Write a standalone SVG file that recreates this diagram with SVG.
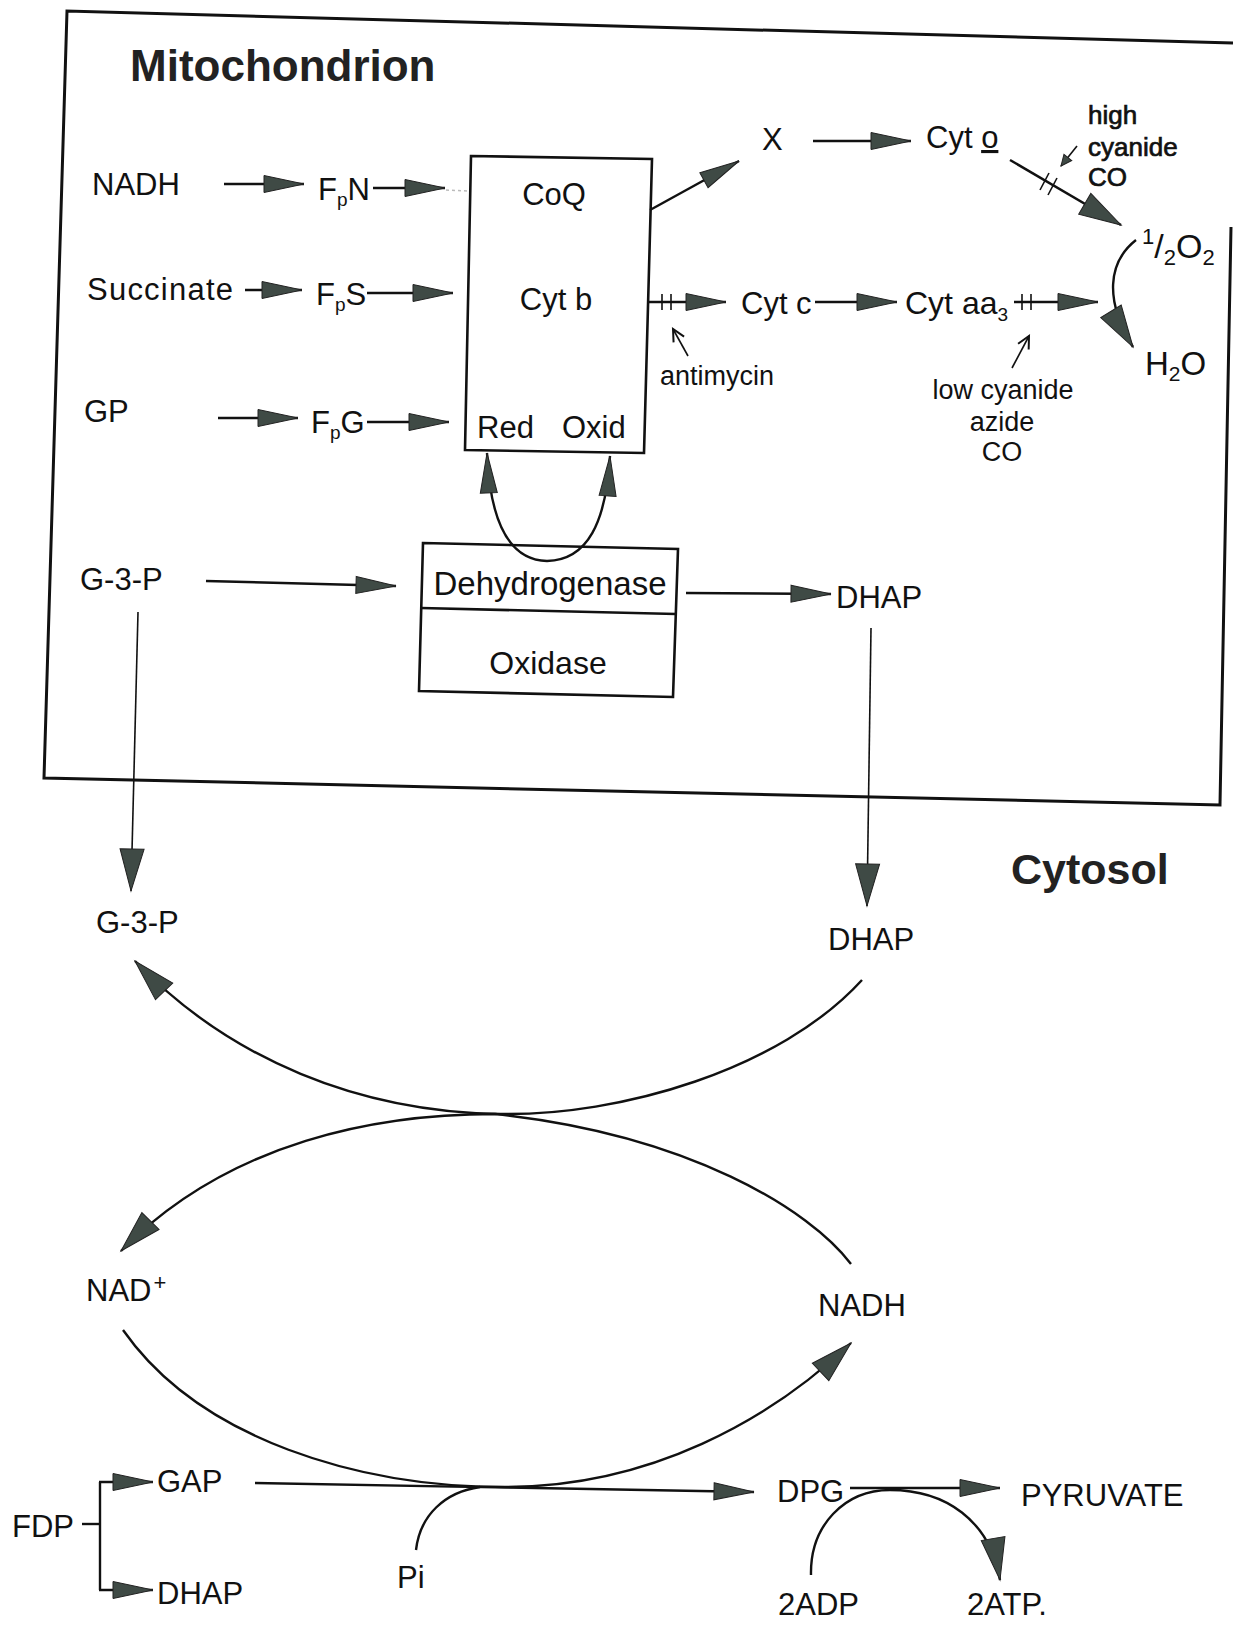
<svg xmlns="http://www.w3.org/2000/svg" width="1242" height="1626" viewBox="0 0 1242 1626">
<style>
text{font-family:"Liberation Sans",Arial,Helvetica,sans-serif;fill:#111;}
.t{font-size:31px;}
.b{font-size:31px;}
.s{font-size:27px;}
.hv{font-size:26px;stroke:#111;stroke-width:0.7px;}
.sub{font-size:19px;}
.ttl{font-weight:bold;fill:#222;}
.ln{fill:none;stroke:#111;stroke-width:2.4;}
.thin{fill:none;stroke:#111;stroke-width:1.6;}
.box{fill:none;stroke:#111;stroke-width:2.6;}
.ah{marker-end:url(#ah);}
.ahb{marker-end:url(#ahb);}
.aho{marker-end:url(#aho);}
.aht{marker-end:url(#aht);}
</style>
<defs>
<marker id="ah" markerUnits="userSpaceOnUse" orient="auto" markerWidth="42" markerHeight="18" refX="40" refY="9" overflow="visible">
<path d="M0,0.5 L40,9 L0,17.5 Z" fill="#3f4a45" stroke="#222" stroke-width="1"/>
</marker>
<marker id="ahb" markerUnits="userSpaceOnUse" orient="auto" markerWidth="44" markerHeight="26" refX="42" refY="12" overflow="visible">
<path d="M0,0 L42,12 L0,24 Z" fill="#3f4a45" stroke="#222" stroke-width="1"/>
</marker>
<marker id="aho" markerUnits="userSpaceOnUse" orient="auto" markerWidth="14" markerHeight="14" refX="12" refY="6" overflow="visible">
<path d="M0,0 L12,6 L0,12" fill="none" stroke="#111" stroke-width="2"/>
</marker>
<marker id="aht" markerUnits="userSpaceOnUse" orient="auto" markerWidth="12" markerHeight="10" refX="11" refY="5" overflow="visible">
<path d="M0,0 L11,5 L0,10 Z" fill="#3f4a45" stroke="#222" stroke-width="1"/>
</marker>
</defs>
<rect width="1242" height="1626" fill="#fff"/>

<g id="mitochondrion">
<polyline points="1233,43 67,11 44,778 1220,805 1231,227" fill="none" stroke="#111" stroke-width="3"/>
<text class="ttl" x="130" y="81" font-size="44">Mitochondrion</text>
</g>
<g id="cytosol-label"><text class="ttl" x="1011" y="884" font-size="43">Cytosol</text></g>

<g id="n-nadh-m"><text class="t" x="92" y="195">NADH</text></g>
<g id="n-fpn"><text class="t" x="318" y="200">F<tspan class="sub" dy="6">p</tspan><tspan dy="-6">N</tspan></text></g>
<g id="n-succinate"><text class="t" x="87" y="300" textLength="146">Succinate</text></g>
<g id="n-fps"><text class="t" x="316" y="305">F<tspan class="sub" dy="6">p</tspan><tspan dy="-6">S</tspan></text></g>
<g id="n-gp"><text class="t" x="84" y="422">GP</text></g>
<g id="n-fpg"><text class="t" x="311" y="433">F<tspan class="sub" dy="6">p</tspan><tspan dy="-6">G</tspan></text></g>

<g id="n-complex">
<polygon points="471,156 652,159 644,453 465,450" class="box"/>
<text class="b" x="554" y="205" text-anchor="middle">CoQ</text>
<text class="b" x="556" y="310" text-anchor="middle">Cyt b</text>
<text class="b" x="477" y="438">Red</text>
<text class="b" x="562" y="438">Oxid</text>
</g>

<g id="n-x"><text class="t" x="762" y="150">X</text></g>
<g id="n-cyto"><text class="t" x="926" y="148">Cyt <tspan text-decoration="underline">o</tspan></text></g>
<g id="n-high"><text class="hv" x="1088" y="124">high</text><text class="hv" x="1088" y="156">cyanide</text><text class="hv" x="1088" y="186">CO</text></g>
<g id="n-o2"><text font-size="34" x="1142" y="258"><tspan font-size="22" dy="-14">1</tspan><tspan dy="14">/</tspan><tspan font-size="22" dy="7">2</tspan><tspan dy="-7">O</tspan><tspan font-size="22" dy="7">2</tspan></text></g>
<g id="n-h2o"><text font-size="33" x="1145" y="375">H<tspan font-size="21" dy="6">2</tspan><tspan dy="-6">O</tspan></text></g>
<g id="n-cytc"><text class="t" x="741" y="314">Cyt c</text></g>
<g id="n-cytaa3"><text font-size="32" x="905" y="314">Cyt aa<tspan class="sub" dy="7">3</tspan></text></g>
<g id="n-antimycin"><text class="s" x="660" y="385">antimycin</text></g>
<g id="n-lowcyanide"><text class="s" x="1003" y="399" text-anchor="middle">low cyanide</text><text class="s" x="1002" y="431" text-anchor="middle">azide</text><text class="s" x="1002" y="461" text-anchor="middle">CO</text></g>

<g id="n-g3p-m"><text class="t" x="80" y="590">G-3-P</text></g>
<g id="n-dehydrogenase">
<polygon points="423,543 678,549 673,697 419,691" class="box"/>
<line x1="421" y1="608" x2="676" y2="614" stroke="#111" stroke-width="2.6"/>
<text x="550" y="595" font-size="33" text-anchor="middle">Dehydrogenase</text>
<text x="548" y="674" font-size="32" text-anchor="middle">Oxidase</text>
</g>
<g id="n-dhap-m"><text class="t" x="836" y="608">DHAP</text></g>

<g id="n-g3p-c"><text class="t" x="96" y="933">G-3-P</text></g>
<g id="n-dhap-c"><text class="t" x="828" y="950">DHAP</text></g>
<g id="n-nadp"><text class="t" x="86" y="1301">NAD<tspan font-size="22" dx="2" dy="-11">+</tspan></text></g>
<g id="n-nadh-c"><text class="t" x="818" y="1316">NADH</text></g>
<g id="n-fdp"><text class="t" x="12" y="1537">FDP</text></g>
<g id="n-gap"><text class="t" x="157" y="1492">GAP</text></g>
<g id="n-dhap-b"><text class="t" x="157" y="1604">DHAP</text></g>
<g id="n-pi"><text class="t" x="397" y="1588">Pi</text></g>
<g id="n-dpg"><text class="t" x="777" y="1502">DPG</text></g>
<g id="n-pyruvate"><text class="t" x="1021" y="1506">PYRUVATE</text></g>
<g id="n-2adp"><text class="t" x="778" y="1615">2ADP</text></g>
<g id="n-2atp"><text class="t" x="967" y="1615">2ATP.</text></g>

<g id="connectors">
<line class="ln ah" x1="224" y1="184" x2="304" y2="184"/>
<line class="ln ah" x1="373" y1="188" x2="445" y2="188"/>
<line x1="446" y1="190" x2="469" y2="191" stroke="#bbb" stroke-width="1.5" stroke-dasharray="3,3"/>
<line class="ln ah" x1="245" y1="290" x2="302" y2="290"/>
<line class="ln ah" x1="367" y1="293" x2="453" y2="293"/>
<line class="ln ah" x1="218" y1="418" x2="298" y2="418"/>
<line class="ln ah" x1="367" y1="422" x2="449" y2="422"/>

<line class="ln ah" x1="650" y1="210" x2="739" y2="161"/>
<line class="ln ah" x1="813" y1="141" x2="911" y2="141"/>
<line class="ln ahb" x1="1010" y1="160" x2="1121" y2="225"/>
<line class="thin" x1="1040" y1="190" x2="1049" y2="173"/>
<line class="thin" x1="1048" y1="195" x2="1057" y2="178"/>
<line class="thin aht" x1="1077" y1="146" x2="1061" y2="166"/>
<path class="ln ahb" d="M1136,240 C1108,262 1104,300 1133,347"/>

<line class="ln ah" x1="647" y1="302" x2="726" y2="302"/>
<line class="thin" x1="662" y1="294" x2="662" y2="310"/>
<line class="thin" x1="671" y1="294" x2="671" y2="310"/>
<line class="ln ah" x1="815" y1="302" x2="897" y2="302"/>
<line class="ln ah" x1="1014" y1="302" x2="1098" y2="302"/>
<line class="thin" x1="1022" y1="294" x2="1022" y2="310"/>
<line class="thin" x1="1031" y1="294" x2="1031" y2="310"/>
<line class="thin aho" x1="688" y1="356" x2="673" y2="329"/>
<line class="thin aho" x1="1012" y1="368" x2="1029" y2="336"/>

<path class="ln ah" d="M547,561 C508,560 490,520 487,453"/>
<path class="ln ah" d="M547,561 C588,560 606,522 610,456"/>

<line class="ln ah" x1="206" y1="581" x2="396" y2="586"/>
<line class="ln ah" x1="686" y1="593" x2="831" y2="594"/>
<line class="thin ahb" x1="138" y1="612" x2="131" y2="891"/>
<line class="thin ahb" x1="871" y1="628" x2="867" y2="906"/>

<path class="ln ahb" d="M862,980 C780,1070 620,1116 500,1114 C360,1112 230,1060 135,961"/>
<path class="ln ahb" d="M851,1264 C810,1210 690,1135 495,1114 C380,1114 230,1140 121,1251"/>
<path class="ln ahb" d="M123,1330 C200,1440 360,1487 505,1487 C650,1487 770,1420 851,1343"/>

<line class="ln" x1="82" y1="1524" x2="100" y2="1524"/>
<line class="ln" x1="100" y1="1482" x2="100" y2="1590"/>
<line class="ln ah" x1="99" y1="1482" x2="153" y2="1482"/>
<line class="ln ah" x1="99" y1="1590" x2="153" y2="1590"/>
<line class="ln ah" x1="255" y1="1483" x2="754" y2="1492"/>
<path class="ln" d="M416,1550 C420,1515 445,1492 480,1487"/>
<line class="ln ah" x1="850" y1="1488" x2="1000" y2="1488"/>
<path class="ln ahb" d="M811,1575 C810,1525 845,1490 890,1490 C945,1490 990,1520 1000,1580"/>
</g>
</svg>
